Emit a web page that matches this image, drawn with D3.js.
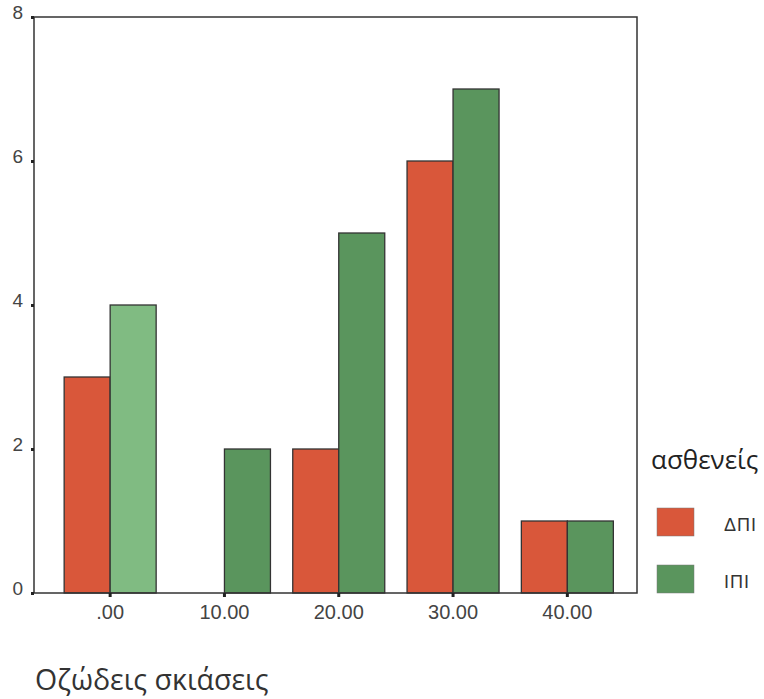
<!DOCTYPE html>
<html><head><meta charset="utf-8">
<script src="https://cdn.jsdelivr.net/npm/d3@7"></script>
<style>body{margin:0;background:#fff}</style>
</head><body>
<svg id="c" width="764" height="699"></svg>
<script>
const categories = [".00", "10.00", "20.00", "30.00", "40.00"];
const seriesNames = ["ΔΠΙ", "ΙΠΙ"];
const dpiValues = [3, 0, 2, 6, 1];
const ipiValues = [4, 2, 5, 7, 1];
const yTicks = [0, 2, 4, 6, 8];

const svg = d3.select("#c");
const frame = {l: 34, r: 637, t: 17, b: 593};
const x = d3.scaleBand().domain(categories).range([53, 624.5]).paddingInner(0).paddingOuter(0);
const y = d3.scaleLinear().domain([0, 8]).range([frame.b, frame.t]);
const sub = d3.scaleBand().domain(seriesNames).range([x.bandwidth()/2 - 46, x.bandwidth()/2 + 46]);

const colRed = "#d9573a", colGreen = "#5a955d", colLight = "#80bb82";

const data = [];
categories.forEach((c, i) => {
  data.push({cat: c, s: "ΔΠΙ", v: dpiValues[i], fill: colRed});
  data.push({cat: c, s: "ΙΠΙ", v: ipiValues[i], fill: i === 0 ? colLight : colGreen});
});

svg.append("g").selectAll("rect").data(data.filter(d => d.v > 0)).join("rect")
  .attr("x", d => x(d.cat) + sub(d.s))
  .attr("y", d => y(d.v))
  .attr("width", sub.bandwidth())
  .attr("height", d => y(0) - y(d.v))
  .attr("fill", d => d.fill)
  .attr("stroke", "#333").attr("stroke-width", 1.3);

// frame
svg.append("rect").attr("x", frame.l).attr("y", frame.t)
  .attr("width", frame.r - frame.l).attr("height", frame.b - frame.t)
  .attr("fill", "none").attr("stroke", "#333").attr("stroke-width", 1.5);

// y axis
const ya = svg.append("g").attr("transform", `translate(${frame.l},0)`)
  .call(d3.axisLeft(y).tickValues(yTicks).tickFormat(d3.format("d")).tickSize(3).tickPadding(8));
ya.select(".domain").remove();
ya.selectAll(".tick line").attr("stroke", "#222").attr("stroke-width", 3);
ya.selectAll(".tick text").style("font-family", "Liberation Sans, Arial, sans-serif")
  .style("font-size", "19px").attr("fill", "#444").attr("dy", "0.1em");

// x axis
const xa = svg.append("g").attr("transform", `translate(0,${frame.b})`)
  .call(d3.axisBottom(x).tickSize(4).tickPadding(8));
xa.select(".domain").remove();
xa.selectAll(".tick line").attr("stroke", "#222").attr("stroke-width", 3);
xa.selectAll(".tick text").style("font-family", "Liberation Sans, Arial, sans-serif")
  .style("font-size", "20px").attr("fill", "#444");

// x title
svg.append("text").attr("x", 35).attr("y", 690)
  .style("font-family", "Open Sans, Noto Sans, sans-serif").style("font-size", "28.5px")
  .attr("fill", "#333").text("Οζώδεις σκιάσεις");

// legend
const lg = svg.append("g");
lg.append("text").attr("x", 651).attr("y", 469)
  .style("font-family", "Open Sans, Noto Sans, sans-serif").style("font-size", "26px")
  .attr("fill", "#222").text("ασθενείς");
const lgCols = [colRed, colGreen];
seriesNames.forEach((s, i) => {
  const yy = 508 + i * 57;
  lg.append("rect").attr("x", 657).attr("y", yy).attr("width", 37).attr("height", 28)
    .attr("fill", lgCols[i]).attr("stroke", "#777").attr("stroke-width", 0.5);
  lg.append("text").attr("x", 724).attr("y", yy + 23)
    .style("font-family", "Liberation Sans, Arial, sans-serif").style("font-size", "18px")
    .style("letter-spacing", "1px")
    .attr("fill", "#333").text(s);
});
</script>
</body></html>
